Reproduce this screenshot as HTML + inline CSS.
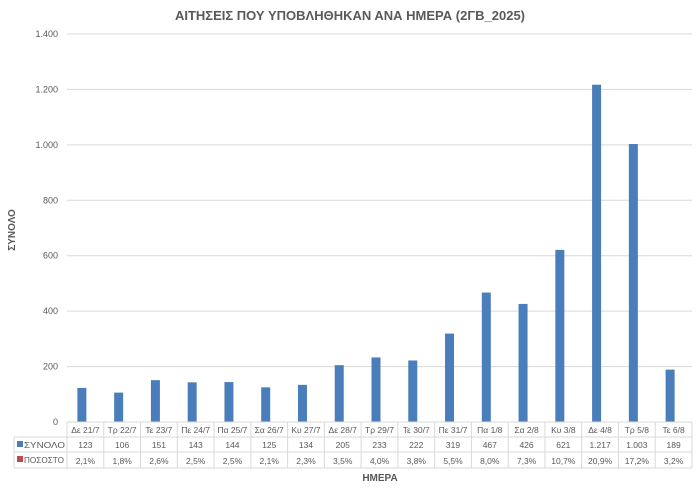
<!DOCTYPE html>
<html><head><meta charset="utf-8">
<style>
html,body{margin:0;padding:0;background:#fff;}
svg{display:block;font-family:"Liberation Sans","DejaVu Sans",sans-serif;}
</style></head>
<body>
<svg id="chart" width="700" height="493" viewBox="0 0 700 493">
<text x="350" y="20" text-anchor="middle" font-size="13" font-weight="bold" fill="#595959">ΑΙΤΗΣΕΙΣ ΠΟΥ ΥΠΟΒΛΗΘΗΚΑΝ ΑΝΑ ΗΜΕΡΑ (2ΓΒ_2025)</text>
<text transform="translate(15,230) rotate(-90)" text-anchor="middle" font-size="10" font-weight="bold" fill="#595959">ΣΥΝΟΛΟ</text>
<text x="380" y="481" text-anchor="middle" font-size="10" font-weight="bold" fill="#595959">ΗΜΕΡΑ</text>
<g id="grid"></g><g id="bars"></g><g id="table"></g>
</svg>
<script>
const categories=["Δε 21/7","Τρ 22/7","Τε 23/7","Πε 24/7","Πα 25/7","Σα 26/7","Κυ 27/7","Δε 28/7","Τρ 29/7","Τε 30/7","Πε 31/7","Πα 1/8","Σα 2/8","Κυ 3/8","Δε 4/8","Τρ 5/8","Τε 6/8"];
const totals=[123,106,151,143,144,125,134,205,233,222,319,467,426,621,1217,1003,189];
const totalLabels=["123","106","151","143","144","125","134","205","233","222","319","467","426","621","1.217","1.003","189"];
const percents=["2,1%","1,8%","2,6%","2,5%","2,5%","2,1%","2,3%","3,5%","4,0%","3,8%","5,5%","8,0%","7,3%","10,7%","20,9%","17,2%","3,2%"];
const yTicks=[0,200,400,600,800,1000,1200,1400];
const yTickLabels=["0","200","400","600","800","1.000","1.200","1.400"];
const NS="http://www.w3.org/2000/svg";
const x0=67,x1=692,y0=422,yTop=34,ymax=1400;
const colW=(x1-x0)/categories.length;
const y=v=>y0-(v/ymax)*(y0-yTop);
const xc=i=>x0+colW*(i+0.5);
function mk(t,a,p){const e=document.createElementNS(NS,t);for(const k in a)e.setAttribute(k,a[k]);p.appendChild(e);return e;}
const grid=document.getElementById('grid'),bars=document.getElementById('bars'),tbl=document.getElementById('table');
yTicks.forEach((v,i)=>{
  if(v>0){const l=mk('line',{x1:x0,x2:x1,y1:y(v),y2:y(v),stroke:'#d9d9d9','stroke-width':1},grid);
  
  }
  const t=mk('text',{x:58,y:y(v)+3,'text-anchor':'end','font-size':9,fill:'#595959'},grid);
  t.textContent=yTickLabels[i];
  
  
});
totals.forEach((v,i)=>{
  const r=mk('rect',{x:xc(i)-8,y:y(v),width:9,height:y0-y(v),fill:'#4a7ebb'},bars);
  
  
});
const rows=[422,437,452,468];
const lc='#d9d9d9';
rows.forEach((ry,i)=>{mk('line',{x1:i==0?x0:14,x2:x1,y1:ry,y2:ry,stroke:lc},tbl);});
mk('line',{x1:14,x2:14,y1:437,y2:468,stroke:lc},tbl);
for(let i=0;i<=categories.length;i++){mk('line',{x1:x0+colW*i,x2:x0+colW*i,y1:422,y2:468,stroke:lc},tbl);}
mk('rect',{x:17,y:441,width:6,height:6,fill:'#4a7ebb'},tbl);
const lt1=mk('text',{x:24,y:448,'font-size':8.5,fill:'#595959',textLength:41,lengthAdjust:'spacingAndGlyphs'},tbl);lt1.textContent='ΣΥΝΟΛΟ';


mk('rect',{x:17,y:456,width:6,height:6,fill:'#be4b48'},tbl);
const lt2=mk('text',{x:24,y:463,'font-size':8.5,fill:'#595959',textLength:40,lengthAdjust:'spacingAndGlyphs'},tbl);lt2.textContent='ΠΟΣΟΣΤΟ';


categories.forEach((c,i)=>{
  const a=mk('text',{x:xc(i),y:433,'text-anchor':'middle','font-size':8.5,fill:'#595959'},tbl);a.textContent=c;
  
  
  const b=mk('text',{x:xc(i),y:448,'text-anchor':'middle','font-size':8.5,fill:'#595959'},tbl);b.textContent=totalLabels[i];
  
  
  const d=mk('text',{x:xc(i),y:464,'text-anchor':'middle','font-size':8.5,fill:'#595959'},tbl);d.textContent=percents[i];
  
  
});
</script>
</body></html>
